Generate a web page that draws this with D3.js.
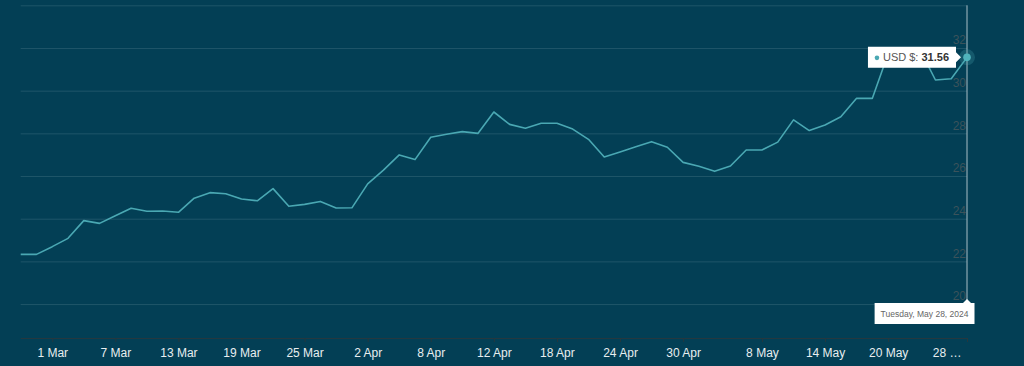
<!DOCTYPE html>
<html>
<head>
<meta charset="utf-8">
<script src="https://cdn.jsdelivr.net/npm/d3@7"></script>
<style>
  html, body { margin: 0; padding: 0; background: #033f55; }
  svg { display: block; font-family: "Liberation Sans", Arial, sans-serif; }
</style>
</head>
<body>
<svg id="chart" width="1024" height="366"></svg>
<script>
// trading days (one point each)
const dates = [
  "2024-02-28", "2024-02-29",
  "2024-03-01", "2024-03-04", "2024-03-05", "2024-03-06", "2024-03-07", "2024-03-08",
  "2024-03-11", "2024-03-12", "2024-03-13", "2024-03-14", "2024-03-15",
  "2024-03-18", "2024-03-19", "2024-03-20", "2024-03-21", "2024-03-22",
  "2024-03-25", "2024-03-26", "2024-03-27", "2024-03-28",
  "2024-04-02", "2024-04-03", "2024-04-04", "2024-04-05",
  "2024-04-08", "2024-04-09", "2024-04-10", "2024-04-11", "2024-04-12",
  "2024-04-15", "2024-04-16", "2024-04-17", "2024-04-18", "2024-04-19",
  "2024-04-22", "2024-04-23", "2024-04-24", "2024-04-25", "2024-04-26",
  "2024-04-29", "2024-04-30", "2024-05-01", "2024-05-02", "2024-05-03",
  "2024-05-07", "2024-05-08", "2024-05-09", "2024-05-10",
  "2024-05-13", "2024-05-14", "2024-05-15", "2024-05-16", "2024-05-17",
  "2024-05-20", "2024-05-21", "2024-05-22", "2024-05-23", "2024-05-24",
  "2024-05-28"
]

const prices = [
  22.33, 22.33, 22.69, 23.08, 23.91, 23.78, 24.14, 24.49, 24.35, 24.36,
  24.30, 24.96, 25.22, 25.17, 24.92, 24.84, 25.41, 24.58, 24.67, 24.81,
  24.50, 24.51, 25.63, 26.28, 26.99, 26.77, 27.82, 27.96, 28.08, 28.00,
  29.00, 28.42, 28.24, 28.47, 28.47, 28.20, 27.72, 26.89, 27.13, 27.37,
  27.61, 27.35, 26.64, 26.46, 26.22, 26.47, 27.22, 27.22, 27.59, 28.63,
  28.13, 28.39, 28.78, 29.64, 29.64, 31.73, 31.85, 31.95, 30.50, 30.56,
  31.56
]

const tick_dates = [
  "2024-03-01", "2024-03-07", "2024-03-13", "2024-03-19", "2024-03-25",
  "2024-04-02", "2024-04-08", "2024-04-12", "2024-04-18", "2024-04-24",
  "2024-04-30", "2024-05-08", "2024-05-14", "2024-05-20", "2024-05-28"
]
const tick_labels = [
  "1 Mar", "7 Mar", "13 Mar", "19 Mar", "25 Mar",
  "2 Apr", "8 Apr", "12 Apr", "18 Apr", "24 Apr",
  "30 Apr", "8 May", "14 May", "20 May", "28 …"
]

const y_ticks = [20, 22, 24, 26, 28, 30, 32, 34]
const y_labels = [20, 22, 24, 26, 28, 30, 32]

const series_name = "USD $"

const plot_left = 20.7, plot_right = 967, plot_top = 5.3, axis_y = 338

const svg = d3.select("#chart")

const x = d3.scalePoint().domain(dates).range([plot_left, plot_right])
const y = d3.scaleLinear().domain([18.41, 34]).range([axis_y, plot_top])

// gridlines
const grid = svg.append("g")
  .attr("transform", `translate(${plot_right},0)`)
  .call(d3.axisLeft(y).tickValues(y_ticks).tickSize(plot_right - plot_left).tickFormat(""))
grid.select(".domain").remove()
grid.selectAll("line").attr("stroke", "#1f5669").attr("stroke-width", 1)

// y labels (inside, right side, above the grid line)
const ylab = svg.append("g")
  .attr("transform", `translate(${plot_right - 1},0)`)
  .call(d3.axisLeft(y).tickValues(y_labels).tickSize(0).tickPadding(0))
ylab.select(".domain").remove()
ylab.selectAll("text")
  .attr("dy", "-0.35em")
  .attr("fill", "#3b535b")
  .style("font-size", "12px")

// x axis
const xaxis = svg.append("g")
  .attr("transform", `translate(0,${axis_y})`)
  .call(d3.axisBottom(x).tickValues(tick_dates).tickSize(4).tickPadding(6)
    .tickFormat((d, i) => tick_labels[i]))
xaxis.select(".domain")
  .attr("d", `M${plot_left},0.5H${plot_right}`)
  .attr("stroke", "#25383f")
xaxis.selectAll("line").attr("stroke", "#25383f")
xaxis.selectAll("text")
  .attr("fill", "#e8eef0")
  .style("font-size", "12px")
xaxis.selectAll(".tick").filter((d, i) => i == tick_dates.length - 1)
  .select("text").attr("text-anchor", "end").attr("x", -6)

// price line
const line = d3.line()
  .x((d, i) => x(dates[i]))
  .y(d => y(d))

svg.append("path")
  .datum(prices)
  .attr("d", line)
  .attr("fill", "none")
  .attr("stroke", "#4aa8b3")
  .attr("stroke-width", 1.6)
  .attr("stroke-linejoin", "round")

// hover state on the last point
const last = prices.length - 1
const px = x(dates[last]), py = y(prices[last])

svg.append("line")
  .attr("x1", px).attr("x2", px)
  .attr("y1", plot_top).attr("y2", 302)
  .attr("stroke", "#a9bec6").attr("stroke-width", 1)

svg.append("circle")
  .attr("cx", px).attr("cy", py).attr("r", 8)
  .attr("fill", "#4aa8b3").attr("opacity", 0.25)
svg.append("circle")
  .attr("cx", px).attr("cy", py).attr("r", 3.8)
  .attr("fill", "#4fb3bc")

// value tooltip
const tip = svg.append("g")
const tipText = tip.append("text")
  .attr("y", py + 4)
  .style("font-size", "11px")
tipText.append("tspan").attr("fill", "#555").text(series_name + ": ")
tipText.append("tspan").attr("fill", "#333").style("font-weight", "bold")
  .text(prices[last].toFixed(2))
const tw = tipText.node().getComputedTextLength()
const boxR = px - 11, boxW = tw + 22, boxL = boxR - boxW
tip.insert("path", "text")
  .attr("d", `M${boxL},${py - 10.5}H${boxR}V${py - 5}L${boxR + 5},${py}L${boxR},${py + 5}V${py + 10.5}H${boxL}Z`)
  .attr("fill", "#fff")
tip.insert("circle", "text")
  .attr("cx", boxL + 9).attr("cy", py + 0.5).attr("r", 2.3)
  .attr("fill", "#4aa8b3")
tipText.attr("x", boxL + 15)

// date tooltip
const fmt = d3.timeFormat("%A, %B %-d, %Y")
const dtip = svg.append("g")
const dText = dtip.append("text")
  .attr("y", 317)
  .attr("fill", "#666")
  .style("font-size", "8.5px")
  .text(fmt(new Date(dates[last] + "T00:00:00")))
const dw = dText.node().getComputedTextLength()
const dR = px + 7.5, dL = dR - dw - 12
dtip.insert("path", "text")
  .attr("d", `M${dL},303H${px - 4}L${px},299L${px + 4},303H${dR}V324H${dL}Z`)
  .attr("fill", "#fff")
dText.attr("x", dL + 6)
</script>
</body>
</html>
